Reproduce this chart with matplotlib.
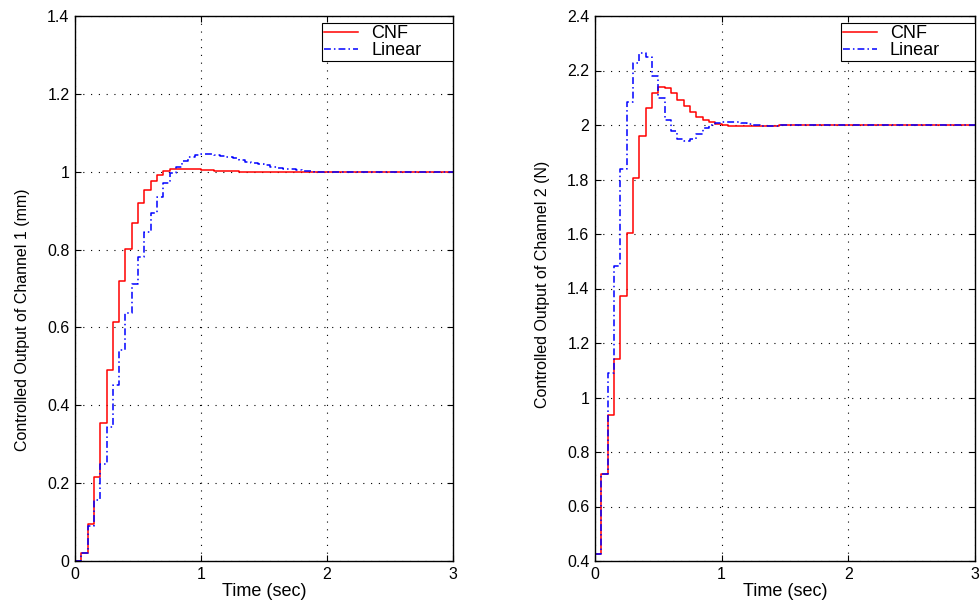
import matplotlib
matplotlib.use("Agg")
import matplotlib.pyplot as plt

plt.rcParams['font.family'] = ['Liberation Sans', 'DejaVu Sans']

# sample times (s)
t = [round(0.05 * k, 2) for k in range(61)]

ch1_cnf = [0.0, 0.021, 0.095, 0.215, 0.354, 0.490, 0.613, 0.718, 0.802, 0.869,
           0.919, 0.953, 0.976, 0.992, 1.001, 1.006, 1.007, 1.007, 1.007, 1.006,
           1.005, 1.004, 1.003, 1.002, 1.001, 1.001, 1.000, 1.000, 1.000, 1.000,
           1.000, 1.000, 1.000, 1.000, 1.000, 1.000, 1.000, 1.000, 1.000, 1.000,
           1.000, 1.000, 1.000, 1.000, 1.000, 1.000, 1.000, 1.000, 1.000, 1.000,
           1.000, 1.000, 1.000, 1.000, 1.000, 1.000, 1.000, 1.000, 1.000, 1.000,
           1.000]
ch1_lin = [0.0, 0.021, 0.090, 0.157, 0.248, 0.345, 0.452, 0.542, 0.636, 0.711,
           0.782, 0.846, 0.893, 0.936, 0.972, 0.996, 1.013, 1.028, 1.037, 1.042,
           1.045, 1.045, 1.044, 1.041, 1.038, 1.034, 1.030, 1.026, 1.022, 1.019,
           1.016, 1.013, 1.010, 1.008, 1.006, 1.004, 1.003, 1.001, 1.000, 0.999,
           0.999, 0.999, 0.999, 0.999, 0.999, 0.999, 0.999, 0.999, 1.000, 1.000,
           1.000, 1.000, 1.000, 1.000, 1.000, 1.000, 1.000, 1.000, 1.000, 1.000,
           1.000]
ch2_cnf = [0.424, 0.718, 0.935, 1.143, 1.374, 1.604, 1.806, 1.960, 2.062, 2.119,
           2.140, 2.135, 2.116, 2.093, 2.068, 2.047, 2.030, 2.018, 2.010, 2.004,
           2.000, 1.998, 1.998, 1.998, 1.998, 1.998, 1.998, 1.998, 1.998, 1.999,
           2.000, 2.000, 2.000, 2.000, 2.000, 2.000, 2.000, 2.000, 2.000, 2.000,
           2.000, 2.000, 2.000, 2.000, 2.000, 2.000, 2.000, 2.000, 2.000, 2.000,
           2.000, 2.000, 2.000, 2.000, 2.000, 2.000, 2.000, 2.000, 2.000, 2.000,
           2.000]
ch2_lin = [0.424, 0.718, 1.090, 1.484, 1.840, 2.083, 2.227, 2.265, 2.248, 2.181,
           2.100, 2.020, 1.977, 1.950, 1.942, 1.948, 1.966, 1.988, 2.000, 2.007,
           2.011, 2.012, 2.010, 2.006, 2.003, 2.000, 1.998, 1.998, 1.998, 1.999,
           2.000, 2.000, 2.000, 2.000, 2.000, 2.000, 2.000, 2.000, 2.000, 2.000,
           2.000, 2.000, 2.000, 2.000, 2.000, 2.000, 2.000, 2.000, 2.000, 2.000,
           2.000, 2.000, 2.000, 2.000, 2.000, 2.000, 2.000, 2.000, 2.000, 2.000,
           2.000]

series_names = ["CNF", "Linear"]
x_ticks = [0, 1, 2, 3]
y1_ticks = [0, 0.2, 0.4, 0.6, 0.8, 1.0, 1.2, 1.4]
y1_labels = ["0", "0.2", "0.4", "0.6", "0.8", "1", "1.2", "1.4"]
y2_ticks = [0.4, 0.6, 0.8, 1.0, 1.2, 1.4, 1.6, 1.8, 2.0, 2.2, 2.4]
y2_labels = ["0.4", "0.6", "0.8", "1", "1.2", "1.4", "1.6", "1.8", "2", "2.2", "2.4"]
ylabels = ["Controlled Output of Channel 1 (mm)", "Controlled Output of Channel 2 (N)"]
xlabel = "Time (sec)"

fig = plt.figure(figsize=(9.8, 6.05), dpi=100)
W, H = 980, 605
ax1 = fig.add_axes([75 / W, (H - 561) / H, 378 / W, 545 / H])
ax2 = fig.add_axes([595 / W, (H - 561) / H, 380 / W, 545 / H])

panels = [
    (ax1, ch1_cnf, ch1_lin, y1_ticks, y1_labels, ylabels[0], (0, 1.4), (-0.12, 0.442), 0.6534),
    (ax2, ch2_cnf, ch2_lin, y2_ticks, y2_labels, ylabels[1], (0.4, 2.4), (-0.118, 0.508), 0.647),
]
for ax, cnf, lin, yt, yl, ylab, ylim, lab_xy, leg_x in panels:
    ax.step(t, cnf, where='post', color='#ff0000', lw=1.1, label=series_names[0])
    ax.step(t, lin, where='post', color='#0000ff', lw=1.1, ls=(0, (4.5, 2, 1, 2)),
            label=series_names[1])
    ax.set_xlim(0, 3)
    ax.set_ylim(*ylim)
    ax.set_xticks(x_ticks)
    ax.set_xticklabels([str(v) for v in x_ticks])
    ax.set_yticks(yt)
    ax.set_yticklabels(yl)
    ax.grid(True, color='black', ls=(0, (1, 6)), lw=0.8)
    ax.tick_params(direction='in', top=True, right=True, length=4.5, width=0.8,
                   labelsize=11.5, pad=4)
    for s in ax.spines.values():
        s.set_linewidth(1.0)
    ax.set_xlabel(xlabel, fontsize=13, labelpad=1)
    ax.set_ylabel(ylab, fontsize=11.5)
    ax.yaxis.set_label_coords(*lab_xy)
    leg = ax.legend(loc='upper right', bbox_to_anchor=(leg_x, 0.0, 1.0 - leg_x, 1 - 7 / 545),
                    mode='expand', fontsize=13, fancybox=False, framealpha=1,
                    edgecolor='black', borderaxespad=0, handlelength=1.9,
                    borderpad=0.12, labelspacing=0.0, handletextpad=0.7)
    leg.get_frame().set_linewidth(0.8)

fig.savefig("out.png", dpi=100)
